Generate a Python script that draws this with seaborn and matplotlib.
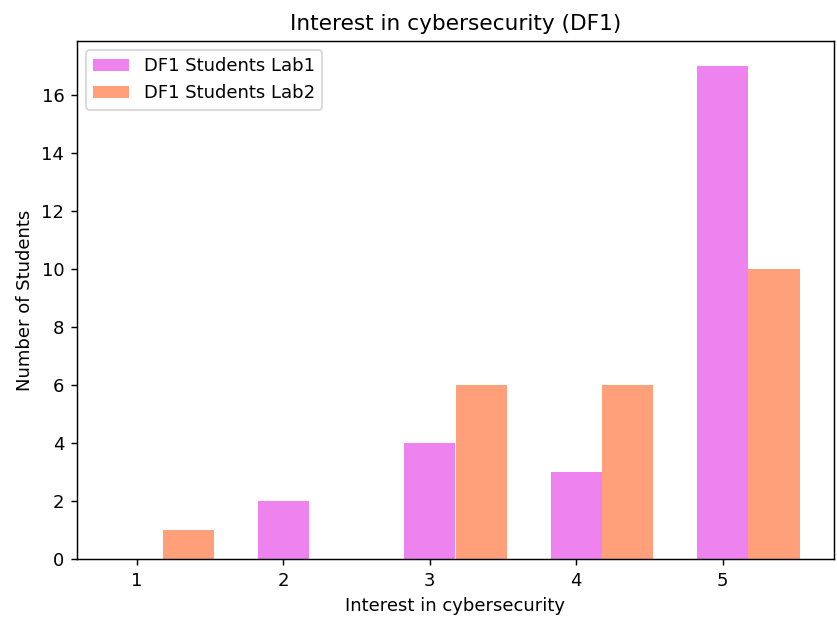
import pandas as pd
import matplotlib.pyplot as plt
import seaborn as sns

# 데이터
interest = [1, 2, 3, 4, 5]
lab1 = [0, 2, 4, 3, 17]
lab2 = [1, 0, 6, 6, 10]
bar_w = 0.35

df = pd.DataFrame({
    'pos': interest + [i + bar_w for i in interest],
    'count': lab1 + lab2,
    'group': ['DF1 Students Lab1'] * 5 + ['DF1 Students Lab2'] * 5,
})

fig, ax = plt.subplots(figsize=(837 / 130, 620 / 130), dpi=130)
sns.barplot(data=df, x='pos', y='count', hue='group', native_scale=True,
            dodge=False, width=1.0, linewidth=0, saturation=1, ax=ax,
            palette={'DF1 Students Lab1': 'violet', 'DF1 Students Lab2': 'lightsalmon'})

ax.set_xticks(interest)
ax.set_xticklabels([str(i) for i in interest])
ax.set_xlabel('Interest in cybersecurity')
ax.set_ylabel('Number of Students')
ax.set_title('Interest in cybersecurity (DF1)')
ax.legend(loc='upper left', title=None)

plt.subplots_adjust(left=77 / 837, right=834 / 837, top=1 - 41 / 620, bottom=1 - 559 / 620)
plt.savefig('out.png', dpi=130)
